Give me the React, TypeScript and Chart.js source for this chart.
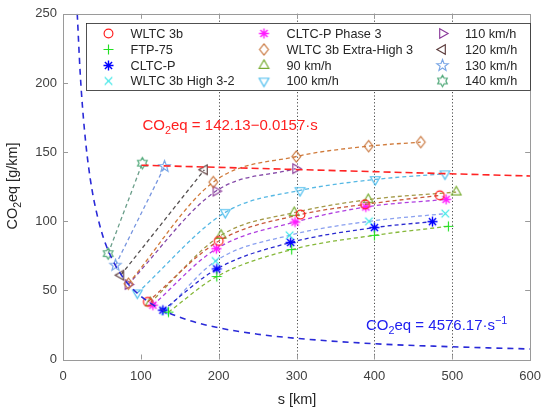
import React, { useEffect, useRef } from 'react';
import { Chart, registerables } from 'chart.js';
Chart.register(...registerables);

const FONT = "'Liberation Sans', Arial, Helvetica, sans-serif";

// x axis: distance s [km]; y axis: CO2eq [g/km]
const xTicks = [0, 100, 200, 300, 400, 500, 600];
const yTicks = [0, 50, 100, 150, 200, 250];
const gridKm = [200, 300, 400, 500];

// Series (distance km, CO2eq g/km)
const wltcS = [109, 200, 305, 388, 484];
const wltcY = [41.7, 85.7, 104.8, 112.2, 118.7];
const ftpS = [135.5, 197.5, 293.7, 400, 495];
const ftpY = [34.3, 60, 79.5, 89.8, 96.3];
const cltcS = [128.3, 197.5, 292.4, 400, 474.5];
const cltcY = [35.7, 65.5, 84.6, 95.4, 99.7];
const high32S = [131, 196, 291, 393, 491];
const high32Y = [35, 71.2, 89.8, 99.9, 105.5];
const cltcP3S = [115.5, 197, 298, 389, 492];
const cltcP3Y = [39.3, 80.1, 99.4, 110.3, 115.8];
const extraHighS = [84, 193, 299.6, 392.6, 459.5];
const extraHighY = [54.8, 128.3, 146.8, 154.3, 157.2];
const v90S = [112, 203, 297, 392, 505];
const v90Y = [41, 89.8, 106.2, 115.6, 121.1];
const v100S = [95.5, 208.4, 304.4, 401, 490.6];
const v100Y = [48.2, 106.4, 122.3, 130.2, 134.3];
const v110S = [83.5, 196.5, 298.8];
const v110Y = [54.2, 121.8, 138];
const v120S = [74.2, 181.6];
const v120Y = [61, 137.2];
const v130S = [67.4, 130.4];
const v130Y = [68.2, 139.6];
const v140S = [58, 101.9];
const v140Y = [76.6, 142];

// Fit curves
const hypS = [18.3, 22, 25, 30, 35, 40, 50, 60, 75, 90, 110, 130, 160, 200, 250, 300, 400, 500, 600];
const hypY = [250, 208, 183, 152.5, 130.7, 114.4, 91.5, 76.3, 61, 50.8, 41.6, 35.2, 28.6, 22.9, 18.3, 15.3, 11.4, 9.2, 7.6];
const linS = [101, 600];
const linY = [140.5, 132.7];

type Kind = 'circle' | 'plus' | 'asterisk' | 'x' | 'diamond' | 'up' | 'down' | 'right' | 'left' | 'pentagram' | 'hexagram';

const series: { name: string; s: number[]; y: number[]; kind: Kind; mk: string; line: string }[] = [
  { name: 'WLTC 3b', s: wltcS, y: wltcY, kind: 'circle', mk: '#ff1a1a', line: '#c85a3c' },
  { name: 'FTP-75', s: ftpS, y: ftpY, kind: 'plus', mk: '#22e022', line: '#86b83a' },
  { name: 'CLTC-P', s: cltcS, y: cltcY, kind: 'asterisk', mk: '#0000ff', line: '#2a2ad0' },
  { name: 'WLTC 3b High 3-2', s: high32S, y: high32Y, kind: 'x', mk: '#33e6e6', line: '#8aa0f0' },
  { name: 'CLTC-P Phase 3', s: cltcP3S, y: cltcP3Y, kind: 'asterisk', mk: '#ff1aff', line: '#b040e0' },
  { name: 'WLTC 3b Extra-High 3', s: extraHighS, y: extraHighY, kind: 'diamond', mk: '#c8743a', line: '#d07a3a' },
  { name: '90 km/h', s: v90S, y: v90Y, kind: 'up', mk: '#77ac30', line: '#a49a48' },
  { name: '100 km/h', s: v100S, y: v100Y, kind: 'down', mk: '#4dbeee', line: '#56b8e4' },
  { name: '110 km/h', s: v110S, y: v110Y, kind: 'right', mk: '#8a3a9a', line: '#8448a8' },
  { name: '120 km/h', s: v120S, y: v120Y, kind: 'left', mk: '#5c3c3c', line: '#555050' },
  { name: '130 km/h', s: v130S, y: v130Y, kind: 'pentagram', mk: '#7aa6e6', line: '#7896e0' },
  { name: '140 km/h', s: v140S, y: v140Y, kind: 'hexagram', mk: '#4fa878', line: '#6a9e8a' },
];

function makeMarker(kind: Kind, color: string): HTMLCanvasElement {
  const c = document.createElement('canvas');
  c.width = 15;
  c.height = 15;
  const g = c.getContext('2d')!;
  g.strokeStyle = color;
  g.lineWidth = kind === 'asterisk' ? 1.4 : 1.15;
  const m = 7.5;
  const poly = (pts: number[][]) => {
    g.moveTo(pts[0][0], pts[0][1]);
    for (let i = 1; i < pts.length; i++) g.lineTo(pts[i][0], pts[i][1]);
    g.closePath();
  };
  const ring = (n: number, ro: number, ri: number, start: number) => {
    const pts: number[][] = [];
    for (let i = 0; i < 2 * n; i++) {
      const r = i % 2 === 0 ? ro : ri;
      const a = start + (i * Math.PI) / n;
      pts.push([m + r * Math.cos(a), m + r * Math.sin(a)]);
    }
    poly(pts);
  };
  const tri = (startDeg: number) => {
    const pts: number[][] = [];
    for (let i = 0; i < 3; i++) {
      const a = ((startDeg + i * 120) * Math.PI) / 180;
      pts.push([m + 5.6 * Math.cos(a), m + 5.6 * Math.sin(a)]);
    }
    poly(pts);
  };
  g.beginPath();
  switch (kind) {
    case 'circle':
      g.arc(m, m, 4.4, 0, Math.PI * 2);
      break;
    case 'plus':
      g.moveTo(m - 5, m); g.lineTo(m + 5, m);
      g.moveTo(m, m - 5); g.lineTo(m, m + 5);
      break;
    case 'x':
      g.moveTo(m - 3.8, m - 3.8); g.lineTo(m + 3.8, m + 3.8);
      g.moveTo(m - 3.8, m + 3.8); g.lineTo(m + 3.8, m - 3.8);
      break;
    case 'asterisk':
      g.moveTo(m - 5, m); g.lineTo(m + 5, m);
      g.moveTo(m, m - 5); g.lineTo(m, m + 5);
      g.moveTo(m - 3.6, m - 3.6); g.lineTo(m + 3.6, m + 3.6);
      g.moveTo(m - 3.6, m + 3.6); g.lineTo(m + 3.6, m - 3.6);
      break;
    case 'diamond':
      poly([[m, m - 5.6], [m + 4.4, m], [m, m + 5.6], [m - 4.4, m]]);
      break;
    case 'up': tri(-90); break;
    case 'down': tri(90); break;
    case 'right': tri(0); break;
    case 'left': tri(180); break;
    case 'pentagram': ring(5, 6, 2.5, -Math.PI / 2); break;
    case 'hexagram': ring(6, 5.6, 3.3, -Math.PI / 2); break;
  }
  g.stroke();
  return c;
}

type Part = { t: string; k?: 'sub' | 'sup' };
function drawRich(ctx: CanvasRenderingContext2D, parts: Part[], x: number, y: number, size: number, color: string, align: 'left' | 'center') {
  const small = size * 0.72;
  const widths = parts.map((p) => {
    ctx.font = `${p.k ? small : size}px ${FONT}`;
    return ctx.measureText(p.t).width;
  });
  const total = widths.reduce((a, b) => a + b, 0);
  let cx = align === 'center' ? x - total / 2 : x;
  ctx.fillStyle = color;
  ctx.textAlign = 'left';
  ctx.textBaseline = 'alphabetic';
  parts.forEach((p, i) => {
    ctx.font = `${p.k ? small : size}px ${FONT}`;
    const dy = p.k === 'sub' ? size * 0.28 : p.k === 'sup' ? -size * 0.42 : 0;
    ctx.fillText(p.t, cx, y + dy);
    cx += widths[i];
  });
}

export default function App() {
  const ref = useRef<HTMLCanvasElement>(null);
  useEffect(() => {
    document.body.style.margin = '0';
    const canvas = ref.current!;
    const markers = series.map((s) => makeMarker(s.kind, s.mk));

    const datasets: any[] = [
      {
        label: 'CO2eq = 142.13-0.0157s',
        data: linS.map((s, i) => ({ x: s, y: linY[i] })),
        borderColor: '#ff2424',
        borderWidth: 1.6,
        borderDash: [7, 4],
        pointRadius: 0,
        fill: false,
      },
      {
        label: 'CO2eq = 4576.17/s',
        data: hypS.map((s, i) => ({ x: s, y: hypY[i] })),
        borderColor: '#2a2ad8',
        borderWidth: 1.6,
        borderDash: [6, 5],
        pointRadius: 0,
        cubicInterpolationMode: 'monotone',
        fill: false,
      },
      ...series.map((sr, i) => ({
        label: sr.name,
        data: sr.s.map((s, j) => ({ x: s, y: sr.y[j] })),
        borderColor: sr.line,
        borderWidth: 1.3,
        borderDash: [4, 3],
        cubicInterpolationMode: 'monotone',
        pointStyle: markers[i],
        pointRadius: 4,
        fill: false,
      })),
    ];

    const deco = {
      id: 'deco',
      beforeDatasetsDraw(chart: any) {
        const { ctx, chartArea: a, scales } = chart;
        ctx.save();
        ctx.strokeStyle = '#4a4a4a';
        ctx.lineWidth = 1;
        ctx.setLineDash([1.2, 2.2]);
        gridKm.forEach((v) => {
          const px = Math.round(scales.x.getPixelForValue(v)) + 0.5;
          ctx.beginPath();
          ctx.moveTo(px, a.top);
          ctx.lineTo(px, a.bottom);
          ctx.stroke();
        });
        ctx.restore();
      },
      afterDatasetsDraw(chart: any) {
        const { ctx, chartArea: a, scales } = chart;
        ctx.save();
        // box
        ctx.strokeStyle = '#9a9a9a';
        ctx.lineWidth = 1;
        ctx.setLineDash([]);
        ctx.strokeRect(Math.round(a.left) + 0.5, Math.round(a.top) + 0.5, Math.round(a.right - a.left), Math.round(a.bottom - a.top));
        // inward ticks
        ctx.beginPath();
        xTicks.slice(1, -1).forEach((v) => {
          const px = Math.round(scales.x.getPixelForValue(v)) + 0.5;
          ctx.moveTo(px, a.bottom); ctx.lineTo(px, a.bottom - 5);
          ctx.moveTo(px, a.top); ctx.lineTo(px, a.top + 5);
        });
        yTicks.slice(1, -1).forEach((v) => {
          const py = Math.round(scales.y.getPixelForValue(v)) + 0.5;
          ctx.moveTo(a.left, py); ctx.lineTo(a.left + 5, py);
          ctx.moveTo(a.right, py); ctx.lineTo(a.right - 5, py);
        });
        ctx.stroke();

        // legend
        const lx = 86.5, ly = 23.5, lw = 444, lh = 67;
        ctx.fillStyle = '#ffffff';
        ctx.fillRect(lx, ly, lw, lh);
        ctx.strokeStyle = '#262626';
        ctx.lineWidth = 0.8;
        ctx.strokeRect(lx, ly, lw, lh);
        const colMk = [108.5, 264, 442.5];
        const colTx = [130.5, 286.5, 465];
        const rows = [33.5, 49.5, 65.5, 81];
        ctx.font = `12.7px ${FONT}`;
        ctx.fillStyle = '#262626';
        ctx.textBaseline = 'middle';
        ctx.textAlign = 'left';
        series.forEach((sr, i) => {
          const c = Math.floor(i / 4), r = i % 4;
          ctx.drawImage(markers[i], colMk[c] - 7.5, rows[r] - 7.5);
          ctx.fillText(sr.name, colTx[c], rows[r] + 0.5);
        });

        // formulas
        drawRich(ctx, [{ t: 'CO' }, { t: '2', k: 'sub' }, { t: 'eq = 142.13\u22120.0157\u00b7s' }], 142.5, 130, 15, '#ff2020', 'left');
        drawRich(ctx, [{ t: 'CO' }, { t: '2', k: 'sub' }, { t: 'eq = 4576.17\u00b7s' }, { t: '\u22121', k: 'sup' }], 366, 330, 15, '#2020f0', 'left');

        // axis titles
        drawRich(ctx, [{ t: 's [km]' }], 297, 404, 14.5, '#262626', 'center');
        ctx.save();
        ctx.translate(17, 186);
        ctx.rotate(-Math.PI / 2);
        drawRich(ctx, [{ t: 'CO' }, { t: '2', k: 'sub' }, { t: 'eq [g/km]' }], 0, 0, 14.5, '#262626', 'center');
        ctx.restore();
        ctx.restore();
      },
    };

    const chart = new Chart(canvas, {
      type: 'line',
      data: { datasets },
      options: {
        animation: false,
        responsive: false,
        layout: { padding: { left: 0, right: 18, top: 13, bottom: 0 } },
        plugins: { legend: { display: false }, tooltip: { enabled: false } },
        scales: {
          x: {
            type: 'linear',
            min: 0,
            max: 600,
            ticks: { stepSize: 100, padding: 9, color: '#404040', font: { family: FONT, size: 13 } },
            grid: { display: false, drawTicks: false },
            border: { display: false },
            afterFit: (s: any) => { s.height = 52.5; },
          },
          y: {
            type: 'linear',
            min: 0,
            max: 250,
            ticks: { stepSize: 50, padding: 6, color: '#404040', font: { family: FONT, size: 13 } },
            grid: { display: false, drawTicks: false },
            border: { display: false },
            afterFit: (s: any) => { s.width = 63; },
          },
        },
      } as any,
      plugins: [deco],
    });
    return () => chart.destroy();
  }, []);
  return (
    <div style={{ width: 550, height: 412 }}>
      <canvas ref={ref} width={550} height={412} />
    </div>
  );
}
